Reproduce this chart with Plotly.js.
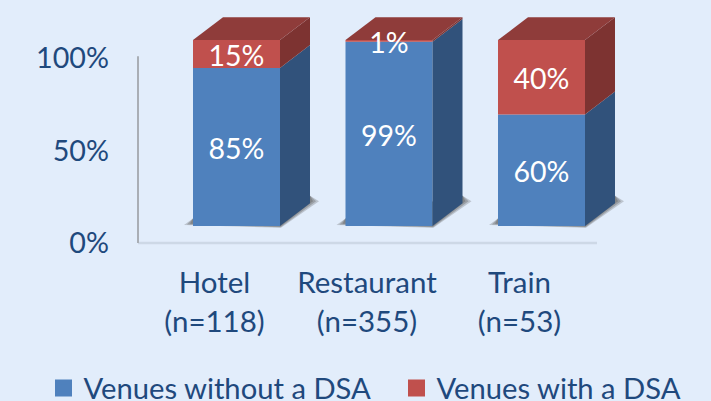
<!DOCTYPE html>
<html><head><meta charset="utf-8">
<script src="https://cdn.plot.ly/plotly-3.0.1.min.js"></script>
<style>html,body{margin:0;padding:0;background:#e2edfb}</style></head>
<body><div id="chart" style="width:711px;height:401px"></div>
<script>
var categories = ["Hotel", "Restaurant", "Train"];
var sampleSizes = ["(n=118)", "(n=355)", "(n=53)"];
var withoutDSA = [85, 99, 60];
var withDSA = [15, 1, 40];
var seriesNames = ["Venues without a DSA", "Venues with a DSA"];
var yTicks = [0, 50, 100];
var yTickLabels = ["0%", "50%", "100%"];

var PXX = 152.5, PXY = 1.86;
var barW = 87 / PXX, dx = 30 / PXX, dy = 22.8 / PXY;
var labelDrop = 4.5 / PXY, tickShift = 22 / PXX;
var FONT = "Lato, Carlito, Calibri, sans-serif", INK = "#1f497d";
var BLUE = "#4f81bd", RED = "#c0504d", BLUE_SIDE = "#31527b", RED_SIDE = "#7d3331", RED_TOP = "#8f3c3a";
var idx = categories.map(function (_, i) { return i; });
var tickPos = idx.map(function (i) { return i - tickShift; });
function px(p) { return (p - 236.5) / PXX; }

function poly(xs, ys, color) {
  return { type: "scatter", mode: "lines", x: xs, y: ys, fill: "toself", fillcolor: color,
    line: { width: 0, color: color }, xaxis: "x", yaxis: "y2", showlegend: false, hoverinfo: "skip" };
}
function sideFace(i, y0, y1, color) {
  var r = i + barW / 2;
  return poly([r, r + dx, r + dx, r, r], [y0, y0 + dy, y1 + dy, y1, y0], color);
}
function topFace(i, y, color) {
  var l = i - barW / 2, r = i + barW / 2;
  return poly([l, r, r + dx, l + dx, l], [y, y, y + dy, y + dy, y], color);
}

var traces = [];
// axis walls
traces.push({ type: "scatter", mode: "lines", x: [px(138), px(597)], y: [0, 0], xaxis: "x2", yaxis: "y",
  line: { color: "#cdd8e6", width: 2.5 }, showlegend: false, hoverinfo: "skip" });
traces.push({ type: "scatter", mode: "lines", x: [px(138), px(138)], y: [0, 101], xaxis: "x2", yaxis: "y",
  line: { color: "#a9aeb5", width: 2 }, showlegend: false, hoverinfo: "skip" });

// front faces
traces.push({ type: "bar", x: idx, y: withoutDSA, width: barW, xaxis: "x", yaxis: "y2",
  marker: { color: BLUE, line: { width: 0 } }, showlegend: false, hoverinfo: "skip" });
traces.push({ type: "bar", x: idx, y: withDSA, base: withoutDSA, width: barW, xaxis: "x", yaxis: "y2",
  marker: { color: RED, line: { width: 0 } }, showlegend: false, hoverinfo: "skip" });

// side and top faces
idx.forEach(function (i) {
  traces.push(sideFace(i, 0, withoutDSA[i], BLUE_SIDE));
  traces.push(sideFace(i, withoutDSA[i], withoutDSA[i] + withDSA[i], RED_SIDE));
  traces.push(topFace(i, withoutDSA[i] + withDSA[i], RED_TOP));
});

// value labels
traces.push({ type: "scatter", mode: "text", xaxis: "x", yaxis: "y2", x: idx,
  y: withoutDSA.map(function (v) { return v / 2 - labelDrop; }),
  text: withoutDSA.map(function (v) { return v + "%"; }), textposition: "middle center",
  textfont: { family: FONT, size: 28.5, color: "#ffffff" }, showlegend: false, hoverinfo: "skip" });
traces.push({ type: "scatter", mode: "text", xaxis: "x", yaxis: "y2", x: idx,
  y: withDSA.map(function (v, i) { return withoutDSA[i] + v / 2 - labelDrop; }),
  text: withDSA.map(function (v) { return v + "%"; }), textposition: "middle center",
  textfont: { family: FONT, size: 28.5, color: "#ffffff" }, showlegend: false, hoverinfo: "skip" });

// legend entries
[BLUE, RED].forEach(function (c, k) {
  traces.push({ type: "bar", x: [null], y: [null], name: seriesNames[k], xaxis: "x", yaxis: "y2",
    legend: k === 0 ? "legend" : "legend2",
    marker: { color: c, line: { color: c, width: 5 } }, hoverinfo: "skip" });
});

// soft floor shadows beneath the bars
var shapes = [];
[[9, 1.8, 0.28], [6, 1.2, 0.34], [3, 0.6, 0.4]].forEach(function (s) {
  idx.forEach(function (i) {
    var l = i - barW / 2, r = i + barW / 2, e = s[0] / PXX, d = s[1] / PXY;
    shapes.push({ type: "path", layer: "below", xref: "x", yref: "y2",
      path: "M" + (l - e) + "," + (-d + 1.5) + " L" + (r + e * 0.1) + "," + (-d) +
        " L" + (r + dx + e) + "," + (dy + 1) + " L" + (r + dx) + "," + (dy + 4) +
        " L" + l + "," + 4 + " Z",
      fillcolor: "#5b5b5b", opacity: s[2], line: { width: 0 } });
  });
});

var plotTop = 10, plotBottom = 260, plotLeft = 112;
function legendAt(xPix) {
  return { orientation: "h", xref: "container", yref: "container", x: xPix / 711, xanchor: "left",
    y: 1 - 362.5 / 401, yanchor: "top", bgcolor: "rgba(0,0,0,0)", indentation: -2,
    font: { family: FONT, size: 29.2, color: INK } };
}
var layout = {
  width: 711, height: 401,
  margin: { l: plotLeft, r: 0, t: plotTop, b: 401 - plotBottom, pad: 0 },
  paper_bgcolor: "#e2edfb", plot_bgcolor: "rgba(0,0,0,0)",
  font: { family: FONT, color: INK, size: 29 },
  barmode: "overlay", shapes: shapes, showlegend: true,
  xaxis: { range: [px(plotLeft), px(711)], tickmode: "array", tickvals: tickPos, ticktext: categories,
    showgrid: false, zeroline: false, showline: false, ticks: "", anchor: "y2",
    ticklabelstandoff: 2, tickfont: { family: FONT, size: 29.5, color: INK } },
  xaxis2: { range: [px(plotLeft), px(711)], overlaying: "x", side: "bottom", anchor: "y", tickmode: "array", tickvals: tickPos,
    ticktext: sampleSizes, showgrid: false, zeroline: false, showline: false, ticks: "",
    ticklabelstandoff: 41, tickfont: { family: FONT, size: 29.5, color: INK } },
  yaxis: { range: [-(plotBottom - 243) / 1.85, (243 - plotTop) / 1.85], tickmode: "array",
    tickvals: yTicks, ticktext: yTickLabels, showgrid: false, zeroline: false, showline: false, ticks: "",
    ticklabelstandoff: 2, tickfont: { family: FONT, size: 28.7, color: INK } },
  yaxis2: { range: [-(plotBottom - 226) / PXY, (226 - plotTop) / PXY], overlaying: "y", visible: false },
  legend: legendAt(45.5),
  legend2: legendAt(398.5)
};
Plotly.newPlot("chart", traces, layout, { displayModeBar: false, staticPlot: true });
</script></body></html>
